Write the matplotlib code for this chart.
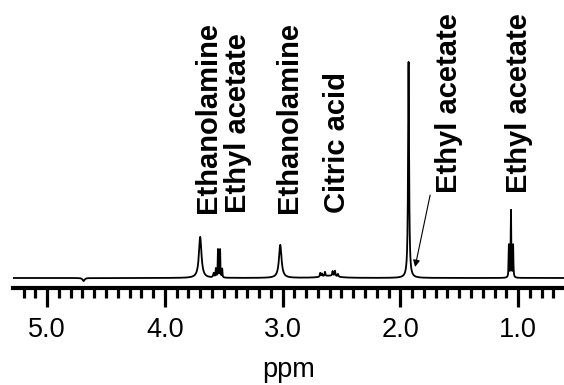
import numpy as np
import matplotlib
matplotlib.use("Agg")
import matplotlib.pyplot as plt
from matplotlib.transforms import blended_transform_factory

plt.rcParams['font.family'] = ['Liberation Sans', 'DejaVu Sans']

# ---- data ----
# individual resonance lines: centre (ppm), height (rel. units), FWHM (ppm)
line_ppm    = [4.69, 3.70, 3.585, 3.567, 3.549, 3.531, 3.513, 3.02,
               2.68, 2.665, 2.64, 2.575, 2.555, 2.53, 2.60,
               1.93, 1.078, 1.060, 1.042]
line_height = [-1.4, 19.0, 2.0, 4.0, 13.0, 13.0, 4.0, 15.3,
               1.8, 1.3, 2.0, 2.2, 2.5, 1.3, 1.0,
               100.0, 15.0, 31.0, 15.0]
line_fwhm   = [0.02, 0.026, 0.01, 0.005, 0.005, 0.005, 0.005, 0.026,
               0.008, 0.008, 0.008, 0.008, 0.008, 0.008, 0.15,
               0.010, 0.005, 0.005, 0.005]

labels      = ["Ethanolamine", "Ethyl acetate", "Ethanolamine", "Citric acid",
               "Ethyl acetate", "Ethyl acetate"]
label_ppm   = [3.635, 3.38, 2.945, 2.535, 1.59, 0.995]
label_ybase = [0.26, 0.26, 0.26, 0.26, 0.33, 0.33]

xticks_major = [5.0, 4.0, 3.0, 2.0, 1.0]
xtick_labels = ["5.0", "4.0", "3.0", "2.0", "1.0"]

# ---- spectrum from the line list (Lorentzian line shapes) ----
ppm = np.arange(0.55, 5.35, 0.0004)
spec = np.zeros_like(ppm)
for c, h, w in zip(line_ppm, line_height, line_fwhm):
    hw = w / 2.0
    spec += h * hw**2 / ((ppm - c)**2 + hw**2)

fig = plt.figure(figsize=(5.64, 3.85), dpi=100)
ax = fig.add_axes([13/564, (385-288)/385, 1 - 13/564, 288/385])
ax.plot(ppm, spec, color='black', lw=1.3)
ax.set_xlim(5.29, 0.61)
ax.set_ylim(-4.63, 128.7)

for s in ['top', 'right', 'left']:
    ax.spines[s].set_visible(False)
ax.spines['bottom'].set_linewidth(3.0)
ax.set_yticks([])

ax.set_xticks(xticks_major)
ax.set_xticklabels(xtick_labels, fontsize=19.5)
ax.set_xticks(np.arange(0.7, 5.25, 0.1), minor=True)
ax.tick_params(axis='x', which='major', length=14, width=2.3, direction='out', pad=7)
ax.tick_params(axis='x', which='minor', length=7, width=2.3, direction='out')
ax.set_xlabel("ppm", fontsize=19.5, labelpad=10)

trans = blended_transform_factory(ax.transData, ax.transAxes)
for t, x, yb in zip(labels, label_ppm, label_ybase):
    ax.text(x, yb, t, rotation=90, ha='center', va='bottom', transform=trans,
            fontsize=21, fontweight='bold')

ax.annotate("", xy=(1.875, 5.1), xytext=(1.747, 38.4),
            arrowprops=dict(arrowstyle='-|>', color='black', lw=0.8,
                            mutation_scale=10, shrinkA=0, shrinkB=0))

fig.savefig("out.png", dpi=100)
